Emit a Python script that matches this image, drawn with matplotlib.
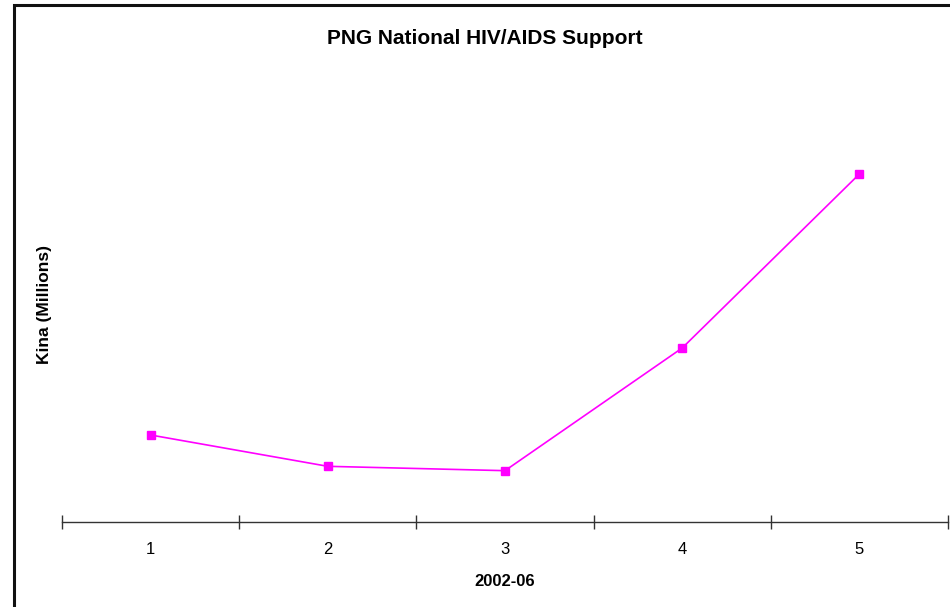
import matplotlib
matplotlib.use("Agg")
import matplotlib.pyplot as plt
from matplotlib.patches import Rectangle

categories = ["1", "2", "3", "4", "5"]
values = [5.0, 3.2, 2.95, 10.0, 20.0]

plt.rcParams['font.family'] = ['Liberation Sans', 'DejaVu Sans']

W, H = 950, 607
fig = plt.figure(figsize=(W/100, H/100), dpi=100)

# outer chart frame (cropped on the right and bottom)
fig.patches.append(Rectangle((14/W, -0.05), 1.2, 1 - 5/H + 0.05, transform=fig.transFigure,
                             fill=False, edgecolor='#111111', linewidth=2.2))

ax_bottom = 1 - 522/H
ax_top = 1 - 87/H
ax = fig.add_axes([62/W, ax_bottom, (948-62)/W, ax_top - ax_bottom])
x = list(range(1, len(values)+1))
ax.plot(x, values, color='#ff00ff', linewidth=1.2, marker='s', markersize=6,
        markerfacecolor='#ff00ff', markeredgecolor='#ff00ff')
ax.set_xlim(0.5, len(values)+0.5)
ax.set_ylim(0, 25)
for s in ['left', 'right', 'top']:
    ax.spines[s].set_visible(False)
ax.spines['bottom'].set_color('#333333')
ax.spines['bottom'].set_linewidth(1.0)
ax.set_yticks([])
ax.set_xticks([i + 0.5 for i in range(0, len(values)+1)])
ax.set_xticklabels([])
ax.set_xticks(x, minor=True)
ax.set_xticklabels(categories, minor=True, fontsize=12)
ax.tick_params(axis='x', which='major', direction='inout', length=10, width=1.0, color='#333333')
ax.tick_params(axis='x', which='minor', length=0, pad=14.5)
ax.set_xlabel("2002-06", fontsize=12, fontweight='bold', labelpad=12)

fig.text(485/W, 1 - 38/H, "PNG National HIV/AIDS Support", ha='center', va='center',
         fontsize=15, fontweight='bold')
fig.text(45/W, 1 - 304/H, "Kina (Millions)", ha='center', va='center', rotation=90,
         fontsize=12.5, fontweight='bold')

fig.savefig("out.png", dpi=100)
